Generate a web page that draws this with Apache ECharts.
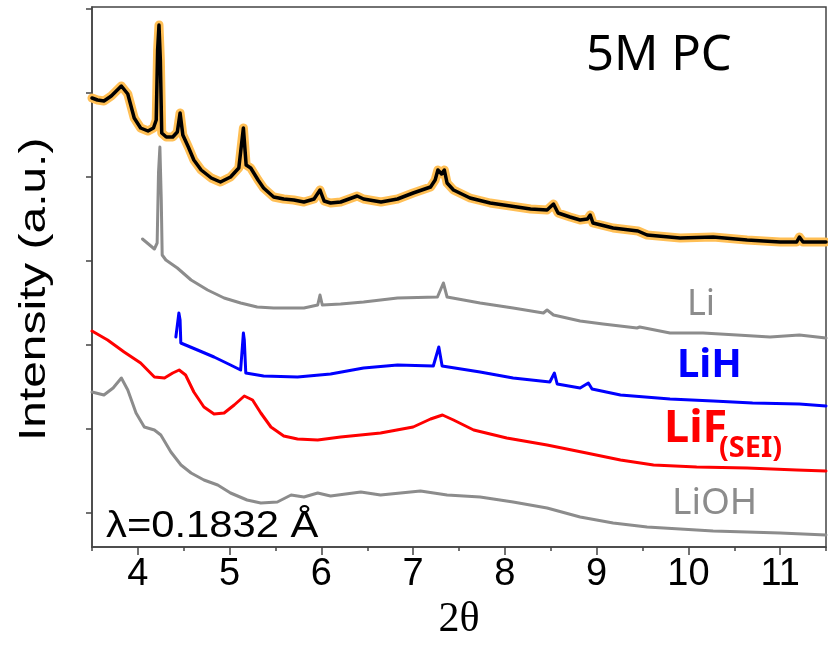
<!DOCTYPE html>
<html>
<head>
<meta charset="utf-8">
<script src="https://cdn.jsdelivr.net/npm/echarts@6/dist/echarts.min.js"></script>
<style>
  html, body { margin: 0; padding: 0; background: #fff; }
  #chart { width: 828px; height: 652px; }
</style>
</head>
<body>
<div id="chart"></div>
<script>
// 2θ ticks
const xLabels = [4, 5, 6, 7, 8, 9, 10, 11];
const xMinor = [3.5, 4.5, 5.5, 6.5, 7.5, 8.5, 9.5, 10.5, 11.5];
const yTicks = [34, 118, 202, 286, 370, 454, 538];

// 5M PC (top trace)
const pcTheta = [3.5, 3.56, 3.63, 3.71, 3.82, 3.89, 3.96, 4.03, 4.11, 4.17, 4.2, 4.215, 4.23, 4.245, 4.26, 4.31, 4.38, 4.43, 4.46, 4.49, 4.55, 4.61, 4.69, 4.8, 4.9, 5.01, 5.1, 5.15, 5.18, 5.23, 5.31, 5.37, 5.48, 5.59, 5.7, 5.81, 5.92, 5.985, 6.03, 6.1, 6.21, 6.39, 6.46, 6.65, 6.83, 7.0, 7.19, 7.24, 7.27, 7.31, 7.34, 7.37, 7.44, 7.62, 7.84, 8.06, 8.28, 8.46, 8.53, 8.58, 8.71, 8.82, 8.9, 8.93, 8.96, 9.18, 9.45, 9.47, 9.55, 9.91, 10.27, 10.64, 11.0, 11.18, 11.21, 11.25, 11.5];
const pcInt = [449, 447, 446, 451, 461, 453, 429, 419, 416, 419, 427, 497, 522, 487, 414, 410, 410, 415, 434, 412, 400, 387, 377, 369, 365, 370, 379, 419, 382, 379, 367, 359, 350, 348, 347, 345, 348, 357, 346, 344, 345, 351, 348, 345, 348, 354, 360, 367, 377, 373, 377, 364, 357, 349, 344, 341, 338, 337, 343, 334, 330, 327, 328, 332, 324, 319, 316, 318, 312, 309, 310, 307, 305, 305, 310, 305, 305];

// Li
const liTheta = [4.05, 4.18, 4.21, 4.225, 4.24, 4.255, 4.265, 4.305, 4.43, 4.58, 4.76, 4.94, 5.12, 5.3, 5.48, 5.81, 5.96, 5.985, 6.01, 6.21, 6.46, 6.83, 7.265, 7.33, 7.37, 7.73, 8.09, 8.42, 8.46, 8.53, 8.82, 9.07, 9.44, 9.47, 9.8, 10.16, 10.53, 10.89, 11.21, 11.5];
const liInt = [308, 298, 304, 375, 400, 347, 292, 287, 279, 267, 257, 249, 244, 240, 239, 239, 242, 252, 242, 243, 245, 249, 250, 264, 250, 244, 239, 234, 237, 232, 226, 223, 219, 220, 214, 214, 212, 210, 212, 209];

// LiH
const lihTheta = [4.414, 4.447, 4.46, 4.468, 4.65, 4.83, 5.01, 5.12, 5.15, 5.16, 5.176, 5.37, 5.74, 6.1, 6.46, 6.83, 7.22, 7.28, 7.316, 7.73, 8.09, 8.49, 8.54, 8.57, 8.82, 8.91, 8.95, 9.26, 9.8, 10.27, 10.7, 11.21, 11.5];
const lihInt = [210, 234, 227, 204, 197, 190, 182, 177, 214, 207, 174, 171, 170, 173, 179, 182, 181, 200, 181, 175, 169, 165, 174, 163, 159, 164, 158, 152, 148, 146, 144, 143, 141];

// LiF (SEI)
const lifTheta = [3.5, 3.67, 3.85, 4.03, 4.18, 4.29, 4.38, 4.45, 4.52, 4.61, 4.72, 4.83, 4.94, 5.05, 5.16, 5.25, 5.34, 5.45, 5.59, 5.74, 5.96, 6.21, 6.645, 7.0, 7.19, 7.32, 7.44, 7.66, 8.02, 8.46, 8.89, 9.26, 9.62, 10.09, 10.64, 11.18, 11.5];
const lifInt = [216, 207, 195, 184, 170, 169, 174, 177, 172, 155, 140, 133, 134, 142, 151, 147, 134, 120, 111, 108, 107, 110, 114, 120, 128, 132, 127, 117, 109, 102, 94, 87, 82, 80, 79, 77, 76];

// LiOH
const liohTheta = [3.5, 3.63, 3.73, 3.82, 3.89, 3.98, 4.07, 4.18, 4.25, 4.36, 4.47, 4.58, 4.72, 4.87, 5.01, 5.19, 5.34, 5.52, 5.67, 5.81, 5.96, 6.1, 6.43, 6.645, 7.08, 7.37, 7.73, 8.09, 8.46, 8.82, 9.18, 9.55, 9.91, 10.27, 10.64, 11.0, 11.5];
const liohInt = [155, 152, 159, 169, 157, 134, 120, 117, 112, 95, 82, 74, 67, 62, 54, 47, 44, 45, 52, 50, 54, 51, 55, 52, 56, 52, 50, 45, 39, 30, 24, 20, 18, 16, 15, 14, 12];

const pairs = (xs, ys) => xs.map((x, i) => [x, ys[i]]);

const line = (data, color, width, z) => ({
  type: "line",
  data: data,
  symbol: "none",
  smooth: false,
  z: z,
  lineStyle: { color: color, width: width, join: "round", cap: "round" },
  emphasis: { disabled: true },
});

const sans = "'Noto Sans', 'Open Sans', sans-serif";
const arial = "'Liberation Sans', Arial, sans-serif";

const chart = echarts.init(document.getElementById("chart"));
chart.setOption({
  animation: false,
  grid: {
    left: 92, right: 2, top: 7, bottom: 105,
    show: true, borderColor: "#444", borderWidth: 1.5,
  },
  xAxis: [
    {
      type: "value", min: 3.5, max: 11.5,
      axisLine: { show: true, lineStyle: { color: "#444", width: 1.5 } },
      axisTick: { show: true, customValues: xLabels, length: 8, lineStyle: { color: "#444", width: 1.5 } },
      axisLabel: {
        customValues: xLabels, margin: 9,
        fontFamily: arial, fontSize: 38, color: "#000",
      },
      splitLine: { show: false },
      name: "2θ", nameLocation: "middle", nameGap: 52,
      nameTextStyle: { fontFamily: "'Liberation Serif', serif", fontSize: 42, color: "#000" },
    },
    {
      type: "value", min: 3.5, max: 11.5, position: "bottom",
      axisLine: { show: false },
      axisTick: { show: true, customValues: xMinor, length: 4, lineStyle: { color: "#444", width: 1.5 } },
      axisLabel: { show: false },
      splitLine: { show: false },
    },
  ],
  yAxis: {
    type: "value", min: 0, max: 540,
    axisLine: { show: true, lineStyle: { color: "#444", width: 1.5 } },
    axisTick: { show: true, customValues: yTicks, length: 6, lineStyle: { color: "#444", width: 1.5 } },
    axisLabel: { show: false },
    splitLine: { show: false },
  },
  series: [
    line(pairs(liohTheta, liohInt), "#8c8c8c", 3, 2),
    line(pairs(lifTheta, lifInt), "#ff0000", 3, 2),
    line(pairs(lihTheta, lihInt), "#0000ff", 3, 2),
    line(pairs(liTheta, liInt), "#8c8c8c", 3, 2),
    line(pairs(pcTheta, pcInt), "#ffbf55", 9, 3),
    line(pairs(pcTheta, pcInt), "#000000", 3.5, 4),
  ],
  graphic: [
    { type: "text", x: 17, y: 441, rotation: Math.PI / 2, scaleX: 1.33,
      style: { text: "Intensity (a.u.)", font: "36px " + arial, fill: "#000", textAlign: "left", textVerticalAlign: "top" } },
    { type: "text", left: 586, top: 32, style: { text: "5M PC", font: "49px " + sans, fill: "#000" } },
    { type: "text", left: 687, top: 287, style: { text: "Li", font: "36px " + sans, fill: "#8c8c8c" } },
    { type: "text", left: 677, top: 346, style: { text: "LiH", font: "bold 40px " + sans, fill: "#0000ff" } },
    { type: "text", left: 664, top: 407, style: { text: "LiF", font: "bold 45px " + sans, fill: "#ff0000" } },
    { type: "text", left: 719, top: 434, style: { text: "(SEI)", font: "bold 29px " + sans, fill: "#ff0000" } },
    { type: "text", left: 672, top: 485, style: { text: "LiOH", font: "37px " + sans, fill: "#8c8c8c" } },
    { type: "text", x: 106, y: 509, scaleX: 1.16,
      style: { text: "λ=0.1832 Å", font: "36px " + arial, fill: "#000", textAlign: "left", textVerticalAlign: "top" } },
  ],
});
</script>
</body>
</html>
